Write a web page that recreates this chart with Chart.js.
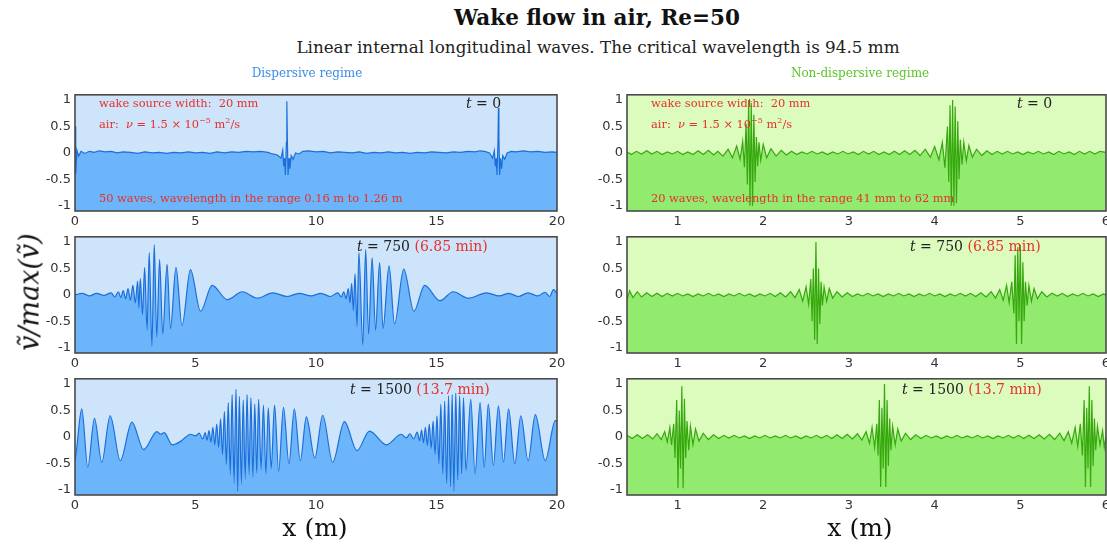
<!DOCTYPE html>
<html><head><meta charset="utf-8">
<script src="https://cdn.jsdelivr.net/npm/chart.js@4.4.0/dist/chart.umd.min.js"></script>
<style>
html,body{margin:0;padding:0;background:#fff;}
#wrap{position:relative;width:1107px;height:550px;overflow:hidden;background:#fff;}
canvas{position:absolute;}
.t{position:absolute;white-space:nowrap;line-height:1;font-family:"DejaVu Serif",serif;}
.c{transform:translate(-50%,-50%);}
.red{color:#e8302a;}
.ann{font-size:11.4px;color:#e8302a;}
.tm{font-size:14px;color:#222;}
</style></head>
<body><div id="wrap">
<div class="t c" style="left:597px;top:18px;font-size:21.5px;font-weight:bold;color:#111;">Wake flow in air, Re=50</div>
<div class="t c" style="left:598px;top:47px;font-size:16.8px;color:#222;">Linear internal longitudinal waves. The critical wavelength is 94.5 mm</div>
<div class="t c" style="left:307px;top:73px;font-size:12px;color:#3a8de8;">Dispersive regime</div>
<div class="t c" style="left:860px;top:73px;font-size:12px;color:#5ec42a;">Non-dispersive regime</div>
<div class="t c" style="left:29px;top:292px;font-size:27px;font-style:italic;color:#111;transform:translate(-50%,-50%) rotate(-90deg);">ṽ/max(ṽ)</div>
<div class="t c" style="left:315px;top:527px;font-size:25px;color:#111;">x (m)</div>
<div class="t c" style="left:860px;top:527px;font-size:25px;color:#111;">x (m)</div>
</div>
<script>
// ---------- tick values ----------
const yTicks = [-1, -0.5, 0, 0.5, 1];
const dispXTicks = [0, 5, 10, 15, 20];
const nondXTicks = [1, 2, 3, 4, 5, 6];

// ---------- Dispersive regime, t = 0 ----------
const dispT0X = [
0.00,0.03,0.08,0.15,0.25,0.40,0.60,0.80,1.00,1.25,
1.50,1.75,2.00,2.30,2.60,2.90,3.20,3.50,3.80,4.10,
4.40,4.70,5.00,5.30,5.60,5.90,6.20,6.50,6.80,7.10,
7.40,7.70,8.00,8.20,8.40,8.55,8.62,8.66,8.70,8.73,
8.77,8.79,8.81,8.84,8.88,8.92,8.97,9.05,9.15,9.30,
9.45,9.70,10.00,10.30,10.60,10.90,11.20,11.50,11.80,12.10,
12.40,12.70,13.00,13.30,13.60,13.90,14.20,14.50,14.80,15.10,
15.40,15.70,16.00,16.30,16.60,16.80,17.00,17.20,17.33,17.40,
17.44,17.48,17.51,17.55,17.57,17.59,17.62,17.66,17.70,17.75,
17.83,17.93,18.10,18.30,18.60,18.90,19.20,19.50,19.80,20.00];
const dispT0Y = [
0.50,-0.40,0.05,-0.06,0.03,-0.01,0.03,0.01,0.04,0.02,
0.03,0.00,0.02,0.01,-0.01,0.02,0.00,0.01,-0.01,0.01,
0.00,0.02,0.00,0.01,-0.01,0.02,0.00,0.02,0.01,0.03,
0.02,0.03,0.01,-0.02,-0.04,-0.10,0.05,-0.25,-0.10,-0.42,
0.20,0.98,0.30,-0.42,-0.10,-0.30,-0.05,-0.12,0.00,-0.02,
0.03,0.04,0.02,0.03,0.00,0.02,0.01,0.00,0.02,-0.01,
0.01,0.00,0.02,0.00,0.01,-0.01,0.01,0.00,0.02,0.01,
0.00,0.02,0.01,0.03,0.02,0.04,0.03,0.00,-0.10,0.04,
-0.25,-0.10,-0.42,0.20,0.85,0.30,-0.42,-0.10,-0.30,-0.05,
-0.12,0.00,0.03,0.02,0.04,0.02,0.03,0.01,0.02,0.01];

// ---------- Dispersive regime, t = 750 ----------
const dispT750X = [
0.00,0.30,0.60,0.90,1.20,1.50,1.65,1.80,1.90,2.00,
2.10,2.20,2.30,2.40,2.50,2.60,2.65,2.71,2.80,2.89,
2.99,3.08,3.19,3.29,3.39,3.51,3.64,3.82,3.96,4.19,
4.44,4.79,5.21,5.69,6.32,6.94,7.57,8.20,8.80,9.30,
9.80,10.20,10.60,10.90,11.05,11.15,11.25,11.34,11.41,11.48,
11.55,11.62,11.70,11.78,11.94,12.06,12.18,12.33,12.47,12.64,
12.78,13.03,13.26,13.64,14.06,14.51,15.14,15.69,16.32,17.08,
17.60,18.00,18.40,18.80,19.20,19.50,19.70,19.85,20.00];
const dispT750Y = [
0.00,0.03,-0.02,0.03,-0.01,0.04,-0.04,0.06,-0.05,0.08,
-0.07,0.12,-0.10,0.18,-0.15,0.26,-0.25,0.31,-0.37,0.52,
-0.67,0.80,-0.97,0.95,-0.80,0.67,-0.74,0.58,-0.64,0.52,
-0.58,0.48,-0.31,0.18,-0.09,0.06,-0.06,0.04,-0.03,0.03,
-0.02,0.03,-0.03,0.04,-0.04,0.06,-0.07,0.12,-0.15,0.22,
-0.30,0.40,-0.60,0.80,-0.95,0.86,-0.74,0.70,-0.67,0.61,
-0.64,0.55,-0.55,0.49,-0.31,0.18,-0.11,0.06,-0.06,0.04,
-0.02,0.03,-0.03,0.04,-0.02,0.05,-0.03,0.10,0.03];

// ---------- Dispersive regime, t = 1500 ----------
const dispT1500X = [
0.00,0.05,0.28,0.53,0.81,1.11,1.46,1.88,2.36,2.85,
3.40,3.55,3.70,4.03,4.40,4.60,4.79,5.00,5.15,5.30,
5.40,5.48,5.56,5.64,5.72,5.80,5.88,5.96,6.04,6.12,
6.20,6.28,6.36,6.44,6.52,6.60,6.68,6.75,6.82,6.90,
6.98,7.06,7.14,7.22,7.30,7.38,7.46,7.54,7.62,7.72,
7.82,7.92,8.02,8.14,8.28,8.45,8.65,8.88,9.10,9.35,
9.60,9.95,10.28,10.69,11.18,11.70,12.22,12.92,13.54,13.75,
13.90,14.05,14.20,14.30,14.38,14.46,14.54,14.62,14.70,14.78,
14.86,14.94,15.02,15.10,15.18,15.26,15.34,15.42,15.50,15.58,
15.65,15.72,15.80,15.88,15.96,16.04,16.12,16.22,16.42,16.60,
16.81,16.98,17.15,17.36,17.57,17.78,17.99,18.25,18.50,18.80,
19.10,19.51,19.93,20.00];
const dispT1500Y = [
-0.45,-0.30,0.53,-0.57,0.35,-0.48,0.40,-0.45,0.28,-0.24,
0.10,0.05,0.08,-0.15,-0.08,0.00,0.05,0.02,0.07,-0.04,
0.08,-0.06,0.12,-0.10,0.18,-0.15,0.24,-0.20,0.34,-0.33,
0.48,-0.52,0.65,-0.72,0.80,-0.88,0.90,-1.03,0.77,-0.90,
0.70,-0.80,0.80,-0.72,0.74,-0.76,0.62,-0.68,0.71,-0.62,
0.60,-0.70,0.55,-0.60,0.60,-0.65,0.56,-0.51,0.53,-0.45,
0.38,-0.40,0.41,-0.48,0.29,-0.26,0.11,-0.15,0.05,-0.02,
0.06,-0.04,0.09,-0.07,0.13,-0.11,0.18,-0.16,0.24,-0.22,
0.30,-0.33,0.40,-0.51,0.62,-0.70,0.68,-0.88,0.78,-0.94,
0.80,-1.03,0.83,-0.82,0.78,-0.70,0.74,-0.64,0.71,-0.70,
0.65,-0.58,0.62,-0.54,0.59,-0.48,0.53,-0.51,0.40,-0.45,
0.42,-0.45,0.31,0.30];

// ---------- Non-dispersive regime, t = 0 ----------
const nondT0X = [
0.41,0.46,0.52,0.58,0.64,0.70,0.76,0.82,0.88,0.94,
1.00,1.06,1.12,1.18,1.24,1.30,1.36,1.42,1.47,1.53,
1.59,1.64,1.69,1.73,1.76,1.78,1.80,1.815,1.83,1.845,
1.86,1.875,1.89,1.905,1.92,1.935,1.95,1.97,2.00,2.04,
2.09,2.15,2.21,2.27,2.33,2.39,2.45,2.51,2.57,2.63,
2.69,2.75,2.81,2.87,2.93,2.99,3.05,3.11,3.17,3.23,
3.29,3.35,3.41,3.47,3.53,3.59,3.65,3.71,3.77,3.83,
3.89,3.95,4.00,4.05,4.09,4.12,4.15,4.165,4.18,4.195,
4.21,4.225,4.24,4.255,4.27,4.285,4.30,4.32,4.34,4.37,
4.40,4.44,4.49,4.55,4.61,4.67,4.73,4.79,4.85,4.91,
4.97,5.03,5.09,5.15,5.21,5.27,5.33,5.39,5.45,5.51,
5.57,5.63,5.69,5.75,5.81,5.87,5.93,6.00];
const nondT0Y = [
0.02,-0.03,0.03,-0.02,0.04,-0.02,0.03,-0.03,0.02,-0.02,
0.03,-0.03,0.02,-0.03,0.04,-0.03,0.05,-0.04,0.03,-0.06,
0.07,-0.09,0.13,-0.12,0.22,-0.27,0.55,-0.60,1.00,-1.00,
0.95,-1.00,0.72,-0.55,0.30,-0.25,0.20,-0.14,0.16,-0.09,
0.08,-0.06,0.05,-0.04,0.03,-0.03,0.02,-0.02,0.03,-0.02,
0.02,-0.03,0.02,-0.02,0.03,-0.02,0.02,-0.03,0.03,-0.02,
0.03,-0.03,0.02,-0.03,0.03,-0.03,0.04,-0.03,0.05,-0.05,
0.07,-0.08,0.12,-0.13,0.20,-0.28,0.50,-0.55,0.90,-1.00,
1.00,-1.00,0.88,-0.95,0.60,-0.50,0.25,-0.22,0.20,-0.15,
0.14,-0.08,0.07,-0.05,0.04,-0.03,0.03,-0.02,0.03,-0.02,
0.02,-0.03,0.02,-0.02,0.03,-0.02,0.02,-0.03,0.03,-0.02,
0.02,-0.03,0.03,-0.02,0.03,-0.02,0.03,0.01];

// ---------- Non-dispersive regime, t = 750 ----------
const nondT750X = [
0.41,0.44,0.48,0.53,0.58,0.64,0.70,0.76,0.82,0.88,
0.94,1.00,1.06,1.12,1.18,1.24,1.30,1.36,1.42,1.48,
1.54,1.60,1.66,1.72,1.78,1.84,1.90,1.96,2.02,2.08,
2.14,2.20,2.26,2.32,2.37,2.42,2.46,2.50,2.53,2.555,
2.57,2.585,2.60,2.615,2.63,2.645,2.66,2.675,2.69,2.71,
2.74,2.77,2.81,2.86,2.92,2.98,3.04,3.10,3.16,3.22,
3.28,3.34,3.40,3.46,3.52,3.58,3.64,3.70,3.76,3.82,
3.88,3.94,4.00,4.06,4.12,4.18,4.24,4.30,4.36,4.42,
4.48,4.54,4.60,4.66,4.71,4.76,4.80,4.84,4.87,4.90,
4.925,4.94,4.955,4.97,4.985,5.00,5.015,5.03,5.045,5.06,
5.08,5.10,5.13,5.16,5.20,5.25,5.31,5.37,5.43,5.49,
5.55,5.61,5.67,5.73,5.79,5.85,5.91,5.97,6.00];
const nondT750Y = [
-0.10,0.08,-0.05,0.06,-0.04,0.04,-0.03,0.03,-0.03,0.03,
-0.02,0.03,-0.02,0.02,-0.03,0.02,-0.02,0.03,-0.02,0.02,
-0.03,0.02,-0.02,0.03,-0.02,0.02,-0.03,0.02,-0.02,0.03,
-0.03,0.04,-0.04,0.06,-0.05,0.10,-0.12,0.15,-0.18,0.30,
-0.50,0.50,-0.85,1.00,-0.93,0.50,-0.55,0.25,-0.20,0.15,
-0.12,0.12,-0.06,0.06,-0.04,0.04,-0.03,0.02,-0.02,0.03,
-0.02,0.02,-0.03,0.02,-0.02,0.03,-0.02,0.02,-0.03,0.02,
-0.02,0.03,-0.02,0.02,-0.03,0.02,-0.02,0.03,-0.02,0.03,
-0.03,0.04,-0.04,0.06,-0.06,0.10,-0.10,0.18,-0.15,0.25,
-0.35,0.75,-0.93,0.90,-0.50,0.95,-0.93,0.62,-0.50,0.25,
-0.20,0.18,-0.12,0.12,-0.07,0.06,-0.04,0.03,-0.02,0.03,
-0.03,0.02,-0.02,0.03,-0.02,0.02,-0.03,0.02,0.00];

// ---------- Non-dispersive regime, t = 1500 ----------
const nondT1500X = [
0.41,0.47,0.53,0.59,0.65,0.71,0.76,0.81,0.85,0.88,
0.91,0.93,0.955,0.97,0.99,1.005,1.02,1.035,1.05,1.065,
1.08,1.095,1.11,1.13,1.15,1.18,1.21,1.25,1.30,1.36,
1.42,1.48,1.54,1.60,1.66,1.72,1.78,1.84,1.90,1.96,
2.02,2.08,2.14,2.20,2.26,2.32,2.38,2.44,2.50,2.56,
2.62,2.68,2.74,2.80,2.86,2.92,2.98,3.04,3.10,3.15,
3.20,3.24,3.27,3.30,3.325,3.34,3.355,3.37,3.385,3.40,
3.415,3.43,3.445,3.46,3.475,3.49,3.51,3.54,3.57,3.61,
3.66,3.72,3.78,3.84,3.90,3.96,4.02,4.08,4.14,4.20,
4.26,4.32,4.38,4.44,4.50,4.56,4.62,4.68,4.74,4.80,
4.86,4.92,4.98,5.04,5.10,5.16,5.22,5.28,5.34,5.40,
5.46,5.51,5.56,5.60,5.64,5.67,5.70,5.725,5.745,5.76,
5.775,5.79,5.805,5.82,5.835,5.85,5.865,5.88,5.90,5.93,
5.96,5.98,6.00];
const nondT1500Y = [
0.03,-0.03,0.04,-0.03,0.04,-0.04,0.06,-0.05,0.10,-0.10,
0.18,-0.15,0.25,-0.40,0.70,-0.97,0.50,-0.60,0.96,-0.97,
0.72,-0.40,0.30,-0.25,0.20,-0.15,0.15,-0.08,0.07,-0.05,
0.04,-0.03,0.03,-0.02,0.03,-0.02,0.02,-0.03,0.02,-0.02,
0.03,-0.02,0.02,-0.02,0.03,-0.02,0.02,-0.03,0.02,-0.02,
0.03,-0.02,0.03,-0.03,0.04,-0.03,0.05,-0.04,0.06,-0.06,
0.10,-0.12,0.18,-0.20,0.25,-0.35,0.70,-0.95,0.55,-0.60,
1.00,-0.95,0.70,-0.55,0.35,-0.25,0.20,-0.15,0.15,-0.08,
0.07,-0.05,0.04,-0.03,0.03,-0.02,0.02,-0.03,0.02,-0.02,
0.03,-0.02,0.02,-0.02,0.03,-0.02,0.02,-0.03,0.02,-0.02,
0.03,-0.02,0.03,-0.03,0.03,-0.03,0.04,-0.04,0.05,-0.05,
0.07,-0.07,0.10,-0.12,0.18,-0.18,0.25,-0.35,0.70,-0.95,
0.55,-0.60,0.96,-0.95,0.70,-0.55,0.35,-0.25,0.20,-0.15,
0.12,-0.20,0.02];

// ---------- styling ----------
const BLUE = {bg:'#cde4fb', fill:'#6cb5fa', line:'#1c6fd9'};
const GREEN = {bg:'#dcfcbe', fill:'#92ea6e', line:'#36a80e'};
const YW = 34, XH = 20, PADT = 8, PADR = 12;

const panelDecor = {
  id: 'panelDecor',
  beforeDraw(chart, args, o) {
    const a = chart.chartArea, ctx = chart.ctx;
    ctx.save(); ctx.fillStyle = o.bg; ctx.fillRect(a.left, a.top, a.right - a.left, a.bottom - a.top); ctx.restore();
  },
  afterDraw(chart, args, o) {
    const a = chart.chartArea, ctx = chart.ctx;
    ctx.save(); ctx.strokeStyle = '#4a4a4a'; ctx.lineWidth = 1.6;
    ctx.strokeRect(a.left, a.top, a.right - a.left, a.bottom - a.top); ctx.restore();
  }
};

const wrap = document.getElementById('wrap');
function panel(xs, ys, area, xr, xt, col, smooth) {
  const cv = document.createElement('canvas');
  const w = (area.r - area.l) + YW + PADR, h = (area.b - area.t) + PADT + XH;
  cv.width = w; cv.height = h;
  cv.style.left = (area.l - YW) + 'px'; cv.style.top = (area.t - PADT) + 'px';
  cv.style.width = w + 'px'; cv.style.height = h + 'px';
  wrap.insertBefore(cv, wrap.firstChild);
  const pts = xs.map((x, i) => ({x: x, y: ys[i]}));
  const ds = {data: pts, borderColor: col.line, backgroundColor: col.fill, fill: 'start',
      borderWidth: 1.2, pointRadius: 0};
  if (smooth) ds.cubicInterpolationMode = 'monotone'; else ds.tension = 0;
  new Chart(cv, {
    type: 'line',
    data: {datasets: [ds]},
    options: {
      responsive: false, animation: false, events: [], devicePixelRatio: 1,
      layout: {padding: {top: PADT, right: PADR, left: 0, bottom: 0}},
      plugins: {legend: {display: false}, tooltip: {enabled: false}, panelDecor: {bg: col.bg}},
      scales: {
        x: {type: 'linear', min: xr[0], max: xr[1], grid: {display: false, drawTicks: false}, border: {display: false},
          ticks: {color: '#333', font: {family: 'DejaVu Sans', size: 13}, padding: 3, autoSkip: false, maxRotation: 0,
            callback: v => String(v)},
          afterBuildTicks: s => { s.ticks = xt.map(v => ({value: v})); },
          afterFit: s => { s.height = XH; }},
        y: {type: 'linear', min: -1.1, max: 1.1, grid: {display: false, drawTicks: false}, border: {display: false},
          ticks: {color: '#333', font: {family: 'DejaVu Sans', size: 13}, padding: 4, autoSkip: false,
            callback: v => String(v)},
          afterBuildTicks: s => { s.ticks = yTicks.map(v => ({value: v})); },
          afterFit: s => { s.width = YW; }}
      }
    },
    plugins: [panelDecor]
  });
}

const L = {l: 75, r: 557}, R = {l: 627, r: 1106};
const rows = [{t: 91, b: 211}, {t: 233, b: 353}, {t: 375, b: 495}];
panel(dispT0X, dispT0Y, {l: L.l, r: L.r, t: rows[0].t, b: rows[0].b}, [0, 20], dispXTicks, BLUE, false);
panel(dispT750X, dispT750Y, {l: L.l, r: L.r, t: rows[1].t, b: rows[1].b}, [0, 20], dispXTicks, BLUE, true);
panel(dispT1500X, dispT1500Y, {l: L.l, r: L.r, t: rows[2].t, b: rows[2].b}, [0, 20], dispXTicks, BLUE, true);
panel(nondT0X, nondT0Y, {l: R.l, r: R.r, t: rows[0].t, b: rows[0].b}, [0.41, 6.0], nondXTicks, GREEN, false);
panel(nondT750X, nondT750Y, {l: R.l, r: R.r, t: rows[1].t, b: rows[1].b}, [0.41, 6.0], nondXTicks, GREEN, false);
panel(nondT1500X, nondT1500Y, {l: R.l, r: R.r, t: rows[2].t, b: rows[2].b}, [0.41, 6.0], nondXTicks, GREEN, false);

// ---------- annotations (real text overlays) ----------
function txt(x, y, html, cls) {
  const d = document.createElement('div');
  d.className = 't ' + (cls || '');
  d.style.left = x + 'px'; d.style.top = y + 'px';
  d.innerHTML = html;
  wrap.appendChild(d);
}
const srcNote = 'wake source width:&nbsp; 20 mm';
const airNote = 'air:&nbsp; <i>ν</i> = 1.5 × 10<sup style="font-size:8px">−5</sup> m<sup style="font-size:8px">2</sup>/s';
[99, 651].forEach(x => {
  txt(x, 98, srcNote, 'ann');
  txt(x, 117, airNote, 'ann');
});
txt(99, 193, '50 waves, wavelength in the range 0.16 m to 1.26 m', 'ann');
txt(651, 193, '20 waves, wavelength in the range 41 mm to 62 mm', 'ann');
txt(466, 96, '<i>t</i> = 0', 'tm');
txt(1017, 96, '<i>t</i> = 0', 'tm');
txt(357, 239, '<i>t</i> = 750 <span class="red">(6.85 min)</span>', 'tm');
txt(910, 239, '<i>t</i> = 750 <span class="red">(6.85 min)</span>', 'tm');
txt(350, 382, '<i>t</i> = 1500 <span class="red">(13.7 min)</span>', 'tm');
txt(902, 382, '<i>t</i> = 1500 <span class="red">(13.7 min)</span>', 'tm');
</script>
</body></html>
